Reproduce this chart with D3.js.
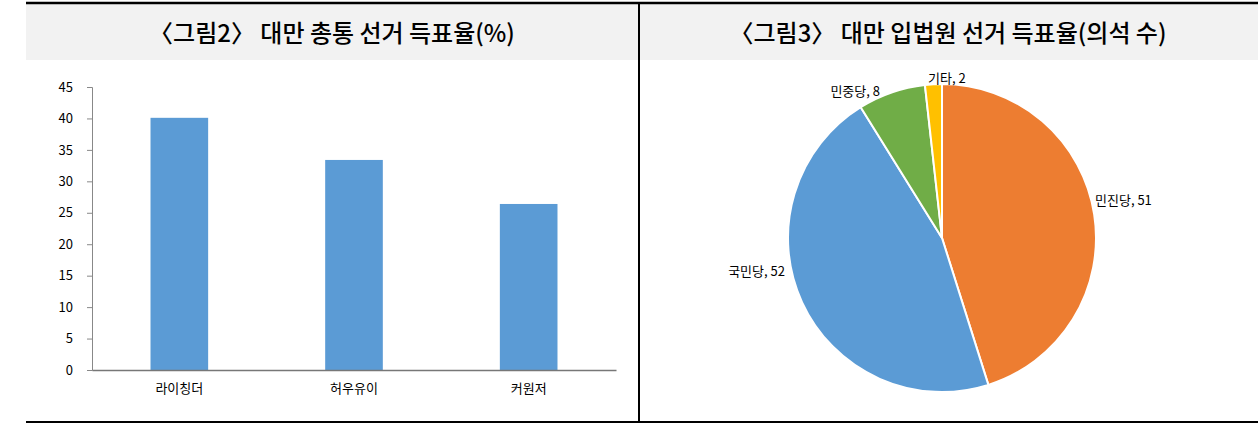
<!DOCTYPE html>
<html><head><meta charset="utf-8">
<script src="https://cdn.jsdelivr.net/npm/d3@7"></script>
<style>body{margin:0;background:#fff}text{font-family:"Noto Sans CJK KR",sans-serif}</style>
</head><body><svg id="c" width="1258" height="425"></svg>
<script>
const candidates = ["라이칭더", "허우유이", "커원저"];
const voteShare = [40.1, 33.4, 26.4];
const yTicks = [0, 5, 10, 15, 20, 25, 30, 35, 40, 45];
const parties = ["민진당", "국민당", "민중당", "기타"];
const seats = [51, 52, 8, 2];
const partyColors = ["#ed7d31", "#5b9bd5", "#70ad47", "#ffc000"];

const svg = d3.select("#c");
// frame
svg.append("rect").attr("x", 26).attr("y", 4).attr("width", 1232).attr("height", 56).attr("fill", "#f2f2f2");
svg.append("line").attr("x1", 26).attr("x2", 1258).attr("y1", 3).attr("y2", 3).attr("stroke", "#000").attr("stroke-width", 2.5);
svg.append("line").attr("x1", 26).attr("x2", 1258).attr("y1", 422).attr("y2", 422).attr("stroke", "#000").attr("stroke-width", 2);
svg.append("line").attr("x1", 639).attr("x2", 639).attr("y1", 3).attr("y2", 422).attr("stroke", "#000").attr("stroke-width", 2);
svg.append("text").attr("x", 332).attr("y", 42).attr("text-anchor", "middle").attr("font-size", 24).attr("font-weight", 500)
  .text("〈그림2〉 대만 총통 선거 득표율(%)");
svg.append("text").attr("x", 948).attr("y", 42).attr("text-anchor", "middle").attr("font-size", 24).attr("font-weight", 500)
  .text("〈그림3〉 대만 입법원 선거 득표율(의석 수)");

// bar chart
const x = d3.scaleBand().domain(candidates).range([92, 616]).paddingInner(0.67).paddingOuter(0.335);
const y = d3.scaleLinear().domain([0, 45]).range([370, 87]);
svg.selectAll(".bar").data(voteShare).join("rect")
  .attr("x", (d, i) => x(candidates[i])).attr("width", x.bandwidth())
  .attr("y", d => y(d)).attr("height", d => y(0) - y(d)).attr("fill", "#5b9bd5");
const ya = svg.append("g").attr("transform", "translate(92,0)")
  .call(d3.axisLeft(y).tickValues(yTicks).tickSize(5).tickPadding(14));
ya.select(".domain").attr("stroke", "#888");
ya.selectAll("line").attr("stroke", "#888");
ya.selectAll("text").attr("font-size", 13).attr("fill", "#000");
const xa = svg.append("g").attr("transform", "translate(0,370)")
  .call(d3.axisBottom(x).tickSize(0).tickPadding(14));
xa.select(".domain").attr("stroke", "#777").attr("stroke-width", 1.5);
xa.selectAll("text").attr("font-size", 13).attr("fill", "#000");

// pie chart
const cx = 942, cy = 238, r = 154;
const pie = d3.pie().sort(null)(seats);
const arc = d3.arc().innerRadius(0).outerRadius(r);
const g = svg.append("g").attr("transform", `translate(${cx},${cy})`);
g.selectAll("path").data(pie).join("path").attr("d", arc)
  .attr("fill", (d, i) => partyColors[i]).attr("stroke", "#fff").attr("stroke-width", 2);
const labelPos = [[1095, 205, "start"], [785, 276, "end"], [880, 96, "end"], [928, 83, "start"]];
svg.selectAll(".lbl").data(pie).join("text")
  .attr("x", (d, i) => labelPos[i][0]).attr("y", (d, i) => labelPos[i][1])
  .attr("text-anchor", (d, i) => labelPos[i][2]).attr("font-size", 13)
  .text((d, i) => parties[i] + ", " + d.data);
</script></body></html>
